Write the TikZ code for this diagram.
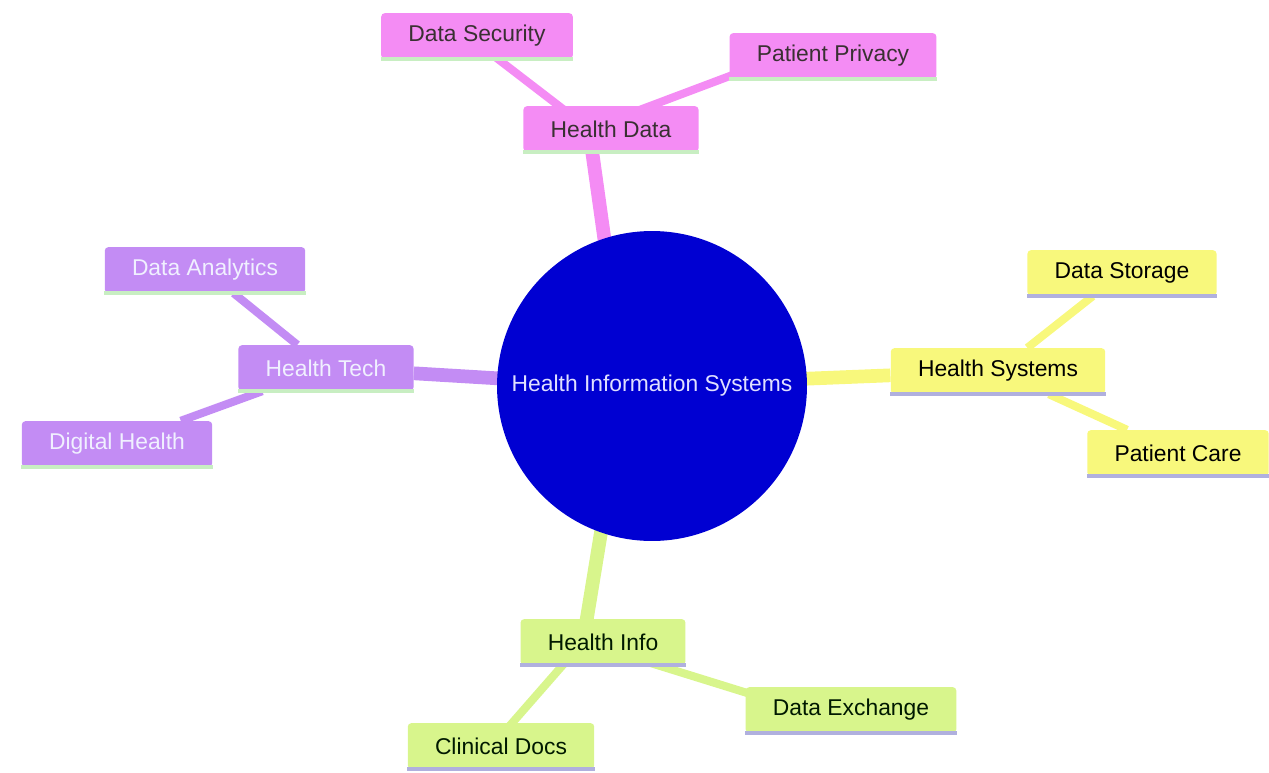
\documentclass[tikz,border=0pt]{standalone}
\usepackage{fontspec}
\setmainfont{Liberation Sans}
\usetikzlibrary{calc}
\usetikzlibrary{backgrounds}

\definecolor{rootblue}{HTML}{0000D2}
\definecolor{secpink}{HTML}{F48CF4}
\definecolor{secpurple}{HTML}{C38CF4}
\definecolor{secyellow}{HTML}{F8F87C}
\definecolor{seclime}{HTML}{D8F58C}
\definecolor{linegreen}{HTML}{C8EEC2}
\definecolor{linelav}{HTML}{B0B0DE}

\tikzset{
  topic/.style={rounded corners=2pt, minimum height=26pt, inner xsep=15.5pt,
    font=\fontsize{13}{15}\selectfont},
  pinkbox/.style={topic, fill=secpink, text=black!90!magenta},
  purplebox/.style={topic, fill=secpurple, text=white!94!blue},
  yellowbox/.style={topic, fill=secyellow, text=black},
  limebox/.style={topic, fill=seclime, text=black!90!green},
  hubnode/.style={circle, fill=rootblue, minimum size=6.2cm, inner sep=0pt,
    text=white!88!blue, font=\fontsize{13}{15}\selectfont},
  trunk/.style={line width=7.8pt},
  twig/.style={line width=4.6pt},
}

\begin{document}
\begin{tikzpicture}[x=0.02cm, y=-0.02cm]
    \useasboundingbox (0,0) rectangle (1269,772);

    \node [hubnode] (his) at (652,386) {Health Information Systems};
    \coordinate (hub) at ($(his)+(-27,0)$);

    \node [pinkbox] (hdata) at (611,129) {Health Data};
    \node [pinkbox] (security) at (477,36) {Data Security};
    \node [pinkbox] (privacy) at (833,56) {Patient Privacy};
    \coordinate (hdatajoint) at ($(hdata)+(-22,0)$);

    \node [purplebox] (htech) at (326,368) {Health Tech};
    \node [purplebox] (analytics) at (205,270) {Data Analytics};
    \node [purplebox] (digital) at (117,444) {Digital Health};

    \node [yellowbox] (hsys) at (998,371) {Health Systems};
    \node [yellowbox] (storage) at (1122,273) {Data Storage};
    \node [yellowbox] (care) at (1178,453) {Patient Care};

    \node [limebox] (hinfo) at (603,642) {Health Info};
    \node [limebox] (exchange) at (851,710) {Data Exchange};
    \node [limebox] (docs) at (501,746) {Clinical Docs};
    \coordinate (hinfojoint) at ($(hinfo)+(-20,0)$);

    % section lines under the boxes
    \foreach \n in {hdata,security,privacy,htech,analytics,digital}
      \draw [line width=2pt, linegreen] (\n.south west) -- (\n.south east);
    \foreach \n in {hsys,storage,care,hinfo,exchange,docs}
      \draw [line width=2pt, linelav] (\n.south west) -- (\n.south east);

    \begin{scope}[on background layer]
      \draw [trunk, secpink] (hub) -- (hdatajoint);
      \draw [twig, secpink] (hdatajoint) -- ($(security)+(-9,0)$);
      \draw [twig, secpink] (hdatajoint) -- ($(privacy)+(-50,0)$);

      \draw [trunk, secpurple] (hub) -- (htech);
      \draw [twig, secpurple] (htech) -- (analytics);
      \draw [twig, secpurple] (htech) -- (digital);

      \draw [trunk, secyellow] (hub) -- (hsys);
      \draw [twig, secyellow] (hsys) -- (storage);
      \draw [twig, secyellow] (hsys) -- (care);

      \draw [trunk, seclime] (hub) -- (hinfojoint);
      \draw [twig, seclime] (hinfojoint) -- ($(docs)+(-9,0)$);
      \draw [twig, seclime] (hinfojoint) -- ($(exchange)+(-49,0)$);
    \end{scope}
  \end{tikzpicture}
\end{document}
